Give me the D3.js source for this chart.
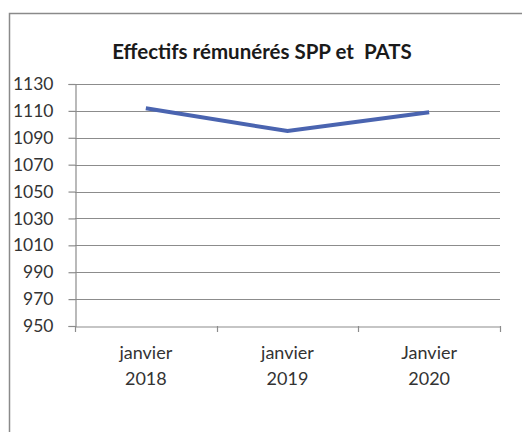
<!DOCTYPE html>
<html><head><meta charset="utf-8">
<script src="https://cdn.jsdelivr.net/npm/d3@7"></script>
<style>body{margin:0;background:#fff}svg{display:block}</style>
</head><body>
<script>
const title = "Effectifs rémunérés SPP et  PATS";
const categories = ["janvier|2018", "janvier|2019", "Janvier|2020"];
const values = [1112, 1095, 1109];
const yTicks = [950, 970, 990, 1010, 1030, 1050, 1070, 1090, 1110, 1130];

const W = 522, H = 432;
const svg = d3.select("body").append("svg").attr("width", W).attr("height", H);
const font = "Lato, 'Open Sans', sans-serif";

// frame
svg.append("path").attr("d", `M9.5,${H} V13.5 H${W}`).attr("fill", "none")
  .attr("stroke", "#8a8a8a").attr("stroke-width", 1.5);

svg.append("text").attr("x", 262).attr("y", 59).attr("text-anchor", "middle")
  .style("white-space", "pre")
  .attr("font-family", font).attr("font-weight", "bold").attr("font-size", 20.5)
  .attr("fill", "#1a1a1a").text(title);

const x = d3.scaleBand().domain(categories).range([75, 500]).padding(0);
const y = d3.scaleLinear().domain([950, 1130]).range([326, 84]);

// gridlines
svg.append("g").selectAll("line").data(yTicks.slice(1)).join("line")
  .attr("x1", 75).attr("x2", 500).attr("y1", d => Math.round(y(d)) + 0.5).attr("y2", d => Math.round(y(d)) + 0.5)
  .attr("stroke", "#8c8c8c").attr("stroke-width", 1.2);

// y axis
const ya = svg.append("g").attr("transform", "translate(75.5,0)")
  .call(d3.axisLeft(y).tickValues(yTicks).tickSize(7).tickPadding(15).tickFormat(d3.format("d")));
ya.select(".domain").attr("stroke", "#8c8c8c").attr("stroke-width", 1.2);
ya.selectAll(".tick line").attr("stroke", "#8c8c8c").attr("stroke-width", 1.2);
ya.selectAll("text").attr("font-family", font).attr("font-size", 17.5).attr("fill", "#333");

// x axis
const xa = svg.append("g").attr("transform", "translate(0,326.5)")
  .call(d3.axisBottom(x).tickSize(0).tickFormat(""));
xa.select(".domain").attr("stroke", "#8c8c8c").attr("stroke-width", 1.2);
const bounds = [75, ...categories.map(c => x(c) + x.bandwidth())];
svg.append("g").selectAll("line").data(bounds).join("line")
  .attr("x1", d => Math.round(d) + 0.5).attr("x2", d => Math.round(d) + 0.5)
  .attr("y1", 326).attr("y2", 332).attr("stroke", "#8c8c8c").attr("stroke-width", 1.2);

const lbl = svg.append("g").selectAll("text").data(categories).join("text")
  .attr("text-anchor", "middle").attr("font-family", font).attr("font-size", 18).attr("fill", "#333");
lbl.append("tspan").attr("x", d => x(d) + x.bandwidth() / 2).attr("y", 359).text(d => d.split("|")[0]);
lbl.append("tspan").attr("x", d => x(d) + x.bandwidth() / 2).attr("y", 384.5).text(d => d.split("|")[1]);

// line
const line = d3.line().x((d, i) => x(categories[i]) + x.bandwidth() / 2).y(d => y(d));
svg.append("path").datum(values).attr("d", line).attr("fill", "none")
  .attr("stroke", "#4a64b0").attr("stroke-width", 4).attr("stroke-linejoin", "miter");
</script>
</body></html>
